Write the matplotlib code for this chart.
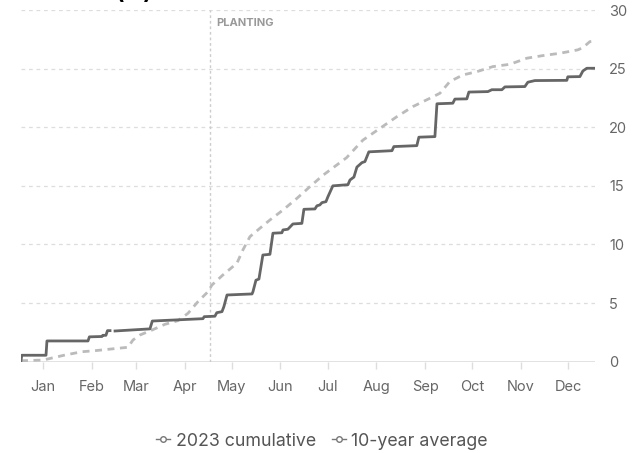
import matplotlib
matplotlib.use('Agg')
import matplotlib.pyplot as plt
import numpy as np
import pandas as pd
from matplotlib.lines import Line2D

plt.rcParams['font.family'] = ['Inter', 'DejaVu Sans']

# Day of year (0 = Jan 1) and cumulative rainfall (in)
days_2023 = [0, 0.5, 15.9, 16.5, 42.6, 43.5, 51.5, 52, 54, 55, 56.6, np.nan,
             59.8, 82, 83.5, 115.7, 116.5, 123.3, 124.5, 127.8, 129, 131,
             146.9, 147.5, 149.4, 151.3, 153.8, 158.3, 160.2, 165.9, 166.6,
             169.7, 172.9, 178.6, 179.9, 186.9, 188.2, 190, 191.4, 193.9,
             195.2, 198.3, 207.9, 209.2, 211.7, 213.6, 216.8, 218.7, 221.2,
             235.9, 237.1, 251.7, 253, 263.2, 264.5, 274.6, 275.9, 283.5,
             284.8, 296.9, 299.4, 305.8, 307.7, 320.4, 322.3, 326.8, 347.1,
             347.7, 355.4, 357.3, 359.8, 365]
cum_2023 = [0.1, 0.55, 0.55, 1.77, 1.77, 2.12, 2.15, 2.25, 2.25, 2.65, 2.65, np.nan,
            2.62, 2.8, 3.47, 3.67, 3.84, 3.88, 4.18, 4.27, 4.69, 5.69,
            5.78, 5.97, 6.95, 7.05, 9.1, 9.16, 10.96, 11.0, 11.24,
            11.3, 11.75, 11.8, 13.0, 13.03, 13.3, 13.37, 13.57, 13.65,
            14.08, 15.0, 15.1, 15.5, 15.75, 16.6, 16.98, 17.07, 17.9,
            18.0, 18.35, 18.43, 19.15, 19.2, 22.0, 22.05, 22.4, 22.42,
            23.0, 23.04, 23.2, 23.2, 23.44, 23.47, 23.84, 23.98, 24.0,
            24.3, 24.32, 24.8, 25.03, 25.03]

days_avg = [0, 14, 28, 38.8, 47, 68, 71.2, 75.7, 83.3, 91.5, 99.8, 106.2,
            112.5, 118.9, 121.4, 128.4, 137.3, 141.1, 145.6, 151.9, 158.3,
            166.6, 175.5, 183.7, 192, 200, 207, 217.4, 228.2, 239, 249.2,
            260, 266.4, 272.7, 281, 289.9, 300, 310.9, 321.7, 331.8, 342.7,
            354.1, 357.3, 361.7, 365]
cum_avg = [0.08, 0.14, 0.57, 0.85, 0.94, 1.23, 1.85, 2.28, 2.7, 3.19, 3.5, 4.13,
           5.12, 5.97, 6.54, 7.4, 8.4, 9.53, 10.67, 11.38, 12.09,
           12.94, 13.94, 14.93, 15.9, 16.7, 17.4, 18.9, 19.9, 20.9, 21.76,
           22.47, 22.9, 23.9, 24.46, 24.74, 25.17, 25.37, 25.89, 26.11, 26.31,
           26.6, 26.79, 27.3, 27.36]

planting_day = 120  # May 1
month_labels = ['Jan', 'Feb', 'Mar', 'Apr', 'May', 'Jun',
                'Jul', 'Aug', 'Sep', 'Oct', 'Nov', 'Dec']
y_ticks = [0, 5, 10, 15, 20, 25, 30]

# mid-month tick positions (15th of each month)
month_starts = pd.date_range('2023-01-01', periods=12, freq='MS')
mid_month = [(d + pd.Timedelta(days=14) - month_starts[0]).days for d in month_starts]

fig = plt.figure(figsize=(6.34, 4.53), dpi=100)
ax = fig.add_axes([21 / 634, 1 - 361.7 / 453, 574 / 634, 351.7 / 453])

# grid
for y in y_ticks[1:]:
    ax.axhline(y, color='#dddddd', lw=0.9, ls=(0, (3, 3)), zorder=0)
ax.axhline(0, color='#dddddd', lw=1.2, zorder=0)

# planting marker
ax.axvline(planting_day, color='#cccccc', lw=1, ls=(0, (2, 2)), zorder=1)
ax.text(planting_day + 4, 29.3, 'PLANTING', color='#999999', fontsize=8,
        fontweight='bold', va='top', ha='left')

ax.plot(days_avg, cum_avg, color='#bbbbbb', lw=2, ls=(0, (2.5, 2)), zorder=2)
ax.plot(days_2023, cum_2023, color='#666666', lw=2, zorder=3)

ax.set_xlim(0, 365)
ax.set_ylim(0, 30)
ax.set_xticks(mid_month)
ax.set_xticklabels(month_labels)
ax.set_yticks(y_ticks)
ax.yaxis.tick_right()
ax.tick_params(axis='y', length=0, pad=10, labelsize=10.5, labelcolor='#666666')
ax.tick_params(axis='x', length=5, color='#dddddd', width=1, pad=8,
               labelsize=10.5, labelcolor='#666666')
for spine in ax.spines.values():
    spine.set_visible(False)

# partially visible title at top edge
fig.text(115 / 634, 1 - 3 / 453, '(in)', fontsize=16, fontweight='bold',
         color='black', ha='left', va='bottom')

handles = [Line2D([], [], color='#777777', lw=1, marker='o', markersize=4,
                  markerfacecolor='white', markeredgewidth=1),
           Line2D([], [], color='#777777', lw=1, marker='o', markersize=4,
                  markerfacecolor='white', markeredgewidth=1)]
fig.legend(handles, ['2023 cumulative', '10-year average'], loc='center',
           bbox_to_anchor=(322 / 634, 1 - 441 / 453), ncol=2, frameon=False,
           fontsize=12.8, labelcolor='#555555', handlelength=0.8,
           handletextpad=0.3, columnspacing=0.9)

fig.savefig('out.png', dpi=100)
plt.close(fig)
